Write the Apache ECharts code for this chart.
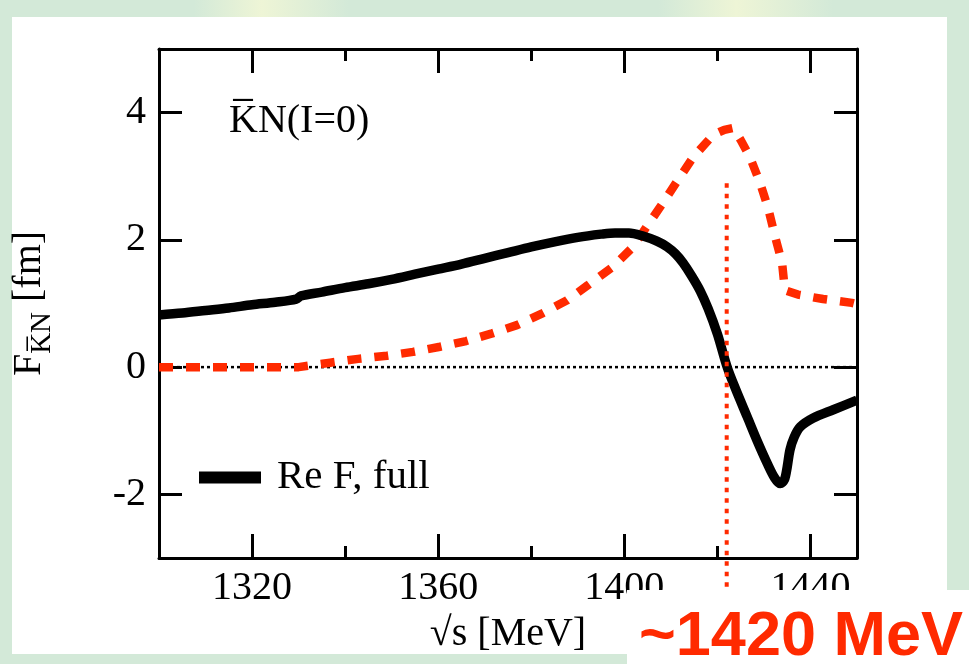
<!DOCTYPE html>
<html>
<head>
<meta charset="utf-8">
<script src="https://cdn.jsdelivr.net/npm/echarts@6/dist/echarts.min.js"></script>
<style>
html,body{margin:0;padding:0;background:#d3e9d8;}
#chart{width:969px;height:664px;}
</style>
</head>
<body>
<div id="chart"></div>
<script>
// ---- data ----
const reE = [1300,1305,1310,1315,1320,1325,1329.5,1330.5,1335,1340,1345,1350,1355,1360,1365,1370,1375,1380,1385,1390,1395,1398,1401,1404,1407,1409.2,1411,1412.6,1414.5,1416.3,1418,1420,1422.1,1424,1426.4,1428.5,1430.7,1432.3,1433.5,1434.4,1435,1435.6,1436.5,1437.8,1440.6,1444.9,1450];
const reF = [0.82,0.85,0.89,0.93,0.98,1.02,1.07,1.12,1.18,1.25,1.31,1.38,1.46,1.54,1.62,1.71,1.80,1.89,1.97,2.04,2.09,2.11,2.11,2.06,1.98,1.89,1.78,1.64,1.43,1.20,0.92,0.52,0.0,-0.36,-0.78,-1.15,-1.51,-1.74,-1.83,-1.77,-1.57,-1.30,-1.10,-0.94,-0.80,-0.67,-0.52];
const imE = [1300,1310,1320,1330,1336.8,1342.8,1349,1354.6,1360.4,1366,1371.6,1376.9,1382.5,1387.7,1392.2,1397.4,1401.9,1405.1,1408.3,1411.5,1414.8,1419.1,1421.5,1423.4,1425,1427,1429.2,1430.9,1432.4,1433.9,1434.5,1437.3,1442.7,1448.9,1450];
const imF = [0,0,0,0,0.07,0.13,0.18,0.24,0.32,0.41,0.53,0.66,0.85,1.05,1.29,1.57,1.89,2.24,2.58,2.94,3.30,3.65,3.73,3.76,3.57,3.30,2.89,2.50,2.05,1.64,1.21,1.14,1.07,1.01,0.99];
const zeroE = [1300,1450];
const zeroF = [0,0];
const markE = [1422,1422];
const markF = [2.89,-3.6];
const xMajorTicks = [1320,1360,1400,1440];
const xMinorTicks = [1340,1380,1420];
const yTicks = [-2,0,2,4];
const legendLabel = 'Re F, full';
const annotation = 'K\u0305N(I=0)';
const callout = '~1420 MeV';
const xName = '\u221As [MeV]';

const zip = (a,b) => a.map((v,i)=>[v,b[i]]);
const SERIF = '"Liberation Serif", "Times New Roman", serif';
const RED = '#ff2a00';

function xAx(pos, ticks, len, main){
  return {
    type:'value', min:1300, max:1450, position:pos,
    axisLine:{show:main, onZero:false, lineStyle:{color:'#000', width:3}},
    axisTick:{show:true, inside:true, length:len, customValues:ticks, lineStyle:{color:'#000', width:3}},
    axisLabel:(main && pos==='bottom') ? {show:true, customValues:ticks, formatter:v=>String(v), fontSize:40, fontFamily:SERIF, color:'#000', margin:10} : {show:false},
    splitLine:{show:false}
  };
}
function yAx(pos, main){
  return {
    type:'value', min:-3, max:5, position:pos,
    axisLine:{show:true, onZero:false, lineStyle:{color:'#000', width:3}},
    axisTick:{show:true, inside:true, length:23, customValues:yTicks, lineStyle:{color:'#000', width:3}},
    axisLabel: main ? {show:true, customValues:yTicks, formatter:v=>String(v), fontSize:40, fontFamily:SERIF, color:'#000', margin:13} : {show:false},
    splitLine:{show:false}
  };
}

const xAxes = [xAx('bottom', xMajorTicks, 24, true), xAx('bottom', xMinorTicks, 12, false), xAx('top', xMajorTicks, 24, true), xAx('top', xMinorTicks, 12, false)];
xAxes[0].name = xName;
xAxes[0].nameLocation = 'middle';
xAxes[0].nameGap = 56;
xAxes[0].nameTextStyle = {fontSize:40, fontFamily:SERIF, color:'#000'};

const yAxes = [yAx('left', true), yAx('right', false)];
yAxes[0].name = '{a|F}{s|K\u0305N}{a| [fm]}';
yAxes[0].nameLocation = 'middle';
yAxes[0].nameRotate = 90;
yAxes[0].nameGap = 102;
yAxes[0].nameTextStyle = {rich:{
  a:{fontSize:40, fontFamily:SERIF, color:'#000', lineHeight:56},
  s:{fontSize:29, fontFamily:SERIF, color:'#000', lineHeight:29, verticalAlign:'bottom'}
}};

const chart = echarts.init(document.getElementById('chart'), null, {renderer:'canvas'});
chart.setOption({
  backgroundColor:'#d3e9d8',
  animation:false,
  grid:{left:159, right:112, top:49, bottom:106, containLabel:false},
  xAxis:xAxes,
  yAxis:yAxes,
  legend:{
    data:[legendLabel], left:199, top:457, padding:0,
    icon:'rect', itemWidth:62, itemHeight:12,
    textStyle:{fontSize:41, fontFamily:SERIF, color:'#000', padding:[0,0,0,11]}
  },
  graphic:[
    {type:'rect', z:-101, shape:{x:0, y:0, width:969, height:17}, silent:true,
     style:{fill:new echarts.graphic.LinearGradient(0,0,1,0,[
       {offset:0, color:'#d3e9d8'},{offset:0.2, color:'#d3e9d8'},{offset:0.27, color:'#eef5d6'},{offset:0.36, color:'#d3e9d8'},
       {offset:0.68, color:'#d3e9d8'},{offset:0.76, color:'#eef5d6'},{offset:0.86, color:'#d3e9d8'},{offset:1, color:'#d3e9d8'}])}},
    {type:'rect', z:-100, shape:{x:12, y:17, width:935, height:637}, style:{fill:'#fff'}, silent:true},
    {type:'text', z:50, x:229, y:101, style:{text:annotation, fontSize:40, fontFamily:SERIF, fill:'#000'}},
    {type:'rect', z:100, shape:{x:627, y:590, width:342, height:74}, style:{fill:'#fff'}},
    {type:'text', z:101, x:801, y:638, style:{text:callout, fontSize:63, fontWeight:'bold', fontFamily:'"Liberation Sans", Arial, sans-serif', fill:RED, align:'center', verticalAlign:'middle'}}
  ],
  series:[
    {type:'line', name:'zero', data:zip(zeroE,zeroF), xAxisIndex:0, yAxisIndex:0, showSymbol:false, silent:true,
     lineStyle:{color:'#000', width:2.5, type:[3,3]}, z:1},
    {type:'line', name:'Im F, full', data:zip(imE,imF), xAxisIndex:0, yAxisIndex:0, showSymbol:false,
     itemStyle:{color:RED}, lineStyle:{color:RED, width:8.5, type:[14,13], cap:'butt'}, z:3},
    {type:'line', name:legendLabel, data:zip(reE,reF), xAxisIndex:0, yAxisIndex:0, showSymbol:false, smooth:0.3,
     itemStyle:{color:'#000'}, lineStyle:{color:'#000', width:9.5, join:'round'}, z:4},
    {type:'line', name:'mark', data:zip(markE,markF), xAxisIndex:0, yAxisIndex:0, showSymbol:false, clip:false,
     lineStyle:{color:RED, width:4, type:[4.5,6]}, z:5}
  ]
});
</script>
</body>
</html>
